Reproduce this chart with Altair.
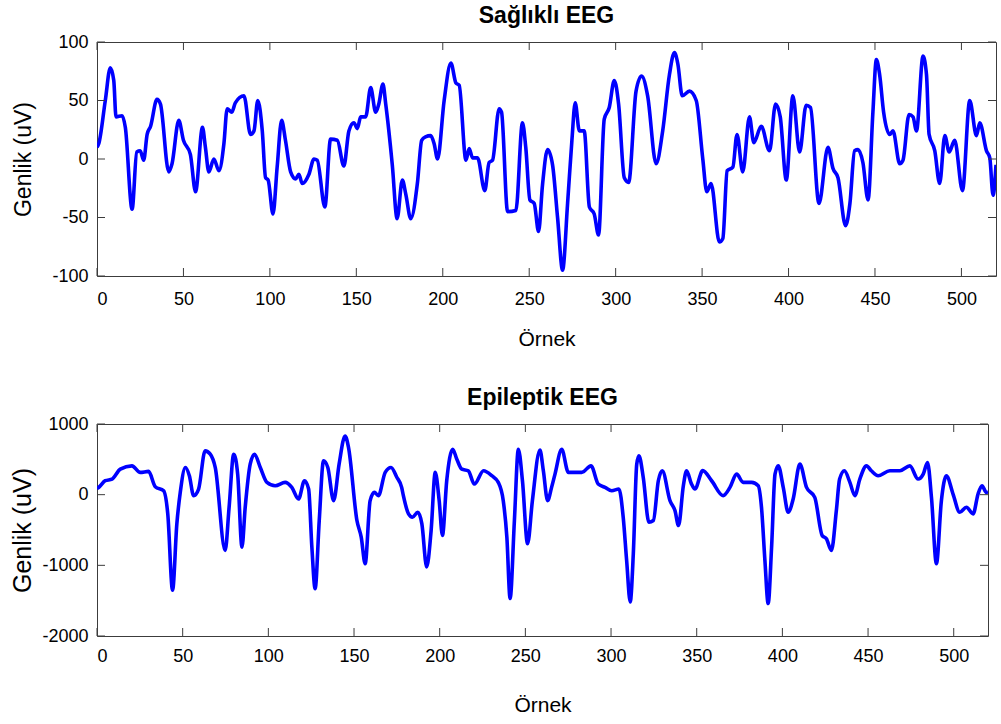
import altair as alt
import pandas as pd

# Healthy EEG trace: sample index and amplitude (uV)
healthy_t = [0, 1, 4.8, 7.7, 9.7, 11, 14.5, 16.4, 20.3, 23, 25, 27, 29, 31, 34.7, 36.7, 41.5, 43.4,
             47.3, 50, 54, 57, 61, 62.7, 64.7, 67.6, 70.5, 73.4, 75.3, 78, 80, 85, 88.8, 90.8,
             93, 95.6, 97.5, 99, 101.8, 104.2, 106.8, 109, 112, 114.9, 116.8, 118.7, 122.6,
             125.5, 127.4, 131.8, 135.1, 139, 142.8, 145.7, 148.6, 150.6, 152.5, 155.4, 158.3,
             161.2, 163, 165.4, 167, 170.8, 173.6, 176.6, 178.6, 181.5, 185.3, 187.8, 190, 193,
             195, 197, 200.8, 204.7, 207.6, 209.5, 213.4, 215.3, 217.2, 220.1, 224.3, 226.8,
             228.8, 232.6, 234, 237.5, 242.3, 246.1, 248, 250.4, 252.9, 255.4, 257.7, 260.6,
             263.5, 266.4, 269.3, 272.2, 274.7, 276.6, 279, 281.8, 284.8, 287.6, 290.1, 293.4,
             296.3, 299.2, 301.7, 305, 307.5, 311.8, 315, 318.5, 323.4, 327.2, 331.1, 334, 336,
             338.5, 342.7, 346.6, 350.4, 352.7, 355.2, 360, 362, 364.5, 367.8, 370.2, 373.5,
             377.4, 379.9, 384.2, 389, 392.5, 395.2, 398.7, 402.5, 406.4, 410.2, 412.7, 417.6,
             422.8, 425.7, 428.6, 433, 435.5, 438.2, 440.2, 443, 446, 448.8, 450.8, 452.7, 455,
             458.5, 460.4, 464.3, 466.2, 469.7, 472, 474, 477.8, 479.8, 481.3, 484.6, 487.4,
             490.4, 492.9, 496.1, 500.6, 504.8, 508.7, 510.6, 514.5, 516.4, 518.3, 520]
healthy_uv = [10, 13, 50, 78, 67, 36, 37, 27, -43, 6, 7, -1, 21, 28, 51, 47, -11, -4,
              33, 16, 4, -28, 27, 10, -11, 0, -10, 13, 43, 40, 48, 54, 21, 24,
              50, 24, -16, -18, -47, -7, 33, 16, -11, -17, -13, -21, -13,
              0, -1, -41, 17, 16, -6, 24, 31, 26, 36, 36, 61,
              40, 47, 64, 47, -5, -51, -18, -30, -51, -21, 16, 19, 20,
              13, 0, 50, 82, 65, 63, -1, 9, 1, 1, -27, -3,
              -1, 43, 40, -45, -44, 31, 10, -35, -38, -62, -22, 8,
              -5, -50, -95, -38, 16, 48, 24, 24, -41, -47, -65, 34,
              44, 67, 47, -16, -20, 58, 71, 54, -4, 24, 72, 91, 81,
              54, 58, 50, 0, -28, -21, -71, -68, -10, -7, 21, -11,
              36, 14, 28, 7, 47, 36, -18, 54, 6, 46, 44, -38,
              10, -8, -16, -57, -38, 7, 8, -3, -35, 40, 85, 72, 40,
              21, 24, -4, -1, 38, 36, 24, 88, 72, 21, 7, -21,
              20, 6, 16, -27, 50, 20, 31, 7, 1, -31, -5]

# Epileptic EEG trace: sample index and amplitude (uV)
epileptic_t = [0, 1, 4.8, 8.8, 13.6, 20.4, 25.2, 30.1, 34, 38.9, 41.3, 44.1, 46.6, 48.6, 51.6,
               53.9, 56.4, 59.3, 63.1, 66.1, 69, 74.8, 77.1, 79.8, 82.1, 84.6, 86.5, 89.4, 91.9,
               95.3, 99.2, 104, 109.8, 113.7, 117.6, 121.1, 123.5, 125.4, 127.3, 129.7, 132.2,
               134.7, 138.1, 141.3, 144.8, 146.8, 151.7, 154.2, 156.5, 159.4, 161.9, 164.2,
               168.2, 171.6, 174.9, 177.8, 178.8, 181.8, 184.1, 187.2, 189.6, 192.4, 195, 197.4,
               199.7, 201.6, 204.1, 207.6, 210, 212.9, 216.7, 220.2, 225.6, 230.4, 234.2, 237.1,
               239.2, 241.1, 243.6, 245.9, 248.3, 251.3, 254.1, 258.5, 260.5, 263, 265.3, 267.3,
               271.2, 275.1, 278.9, 282.9, 288.3, 292.5, 296.5, 300.4, 304.6, 307.1, 309.1,
               311.2, 313, 315, 316.3, 318.8, 322.1, 324.7, 327.6, 329.9, 334.4, 337.3, 339.4,
               342.2, 344.1, 346.8, 349, 353.5, 358.7, 365.4, 369.4, 373.3, 377.1, 382.1, 385.9,
               387.8, 389.8, 391.7, 393.7, 395.7, 397.6, 400.5, 403.4, 406.3, 410.2, 414.1,
               418.9, 423.2, 425.7, 428.6, 431.5, 433.4, 436.2, 439.4, 442.3, 445.2, 449.1,
               451.9, 455.9, 462.7, 468.6, 474.4, 479.2, 482.2, 484.7, 487, 489.9, 492.8, 495.7,
               499.6, 503.5, 507.4, 511.3, 514.2, 516.5, 519, 520]
epileptic_uv = [90, 103, 197, 220, 361, 408, 315, 329, 113, 56, -272, -1352, -413, 33, 385,
                268, -14, 80, 620, 573, 385, -789, -178, 573, 291, -742, -178, 432, 573,
                385, 174, 127, 174, 103, -61, 197, 80, -742, -1329, -366, 479,
                385, -85, 432, 831, 667, -366, -601, -977, -85, 33, -14,
                315, 385, 250, 103, -14, -272, -319, -249, -413, -1023, -507, 315,
                -85, -577, 197, 643, 502, 361, 338, 150, 338, 268, 174, -85,
                -601, -1470, -366, 643, 197, -695, -85, 630, 338, -85, 103, 291,
                643, 315, 315, 315, 408, 150, 103, 56, 80, -319, -930,
                -1517, -836, 432, 549, 244, -390, -366, 197, 338, -85, -225, -437,
                127, 338, 160, 80, 340, 197, -14, 103, 291, 174, 174, 127,
                -178, -930, -1540, -742, 291, 408, 103, -249, -61, 432, 103,
                -38, -577, -624, -789, -225, 221, 338, 174, -14, 221, 408,
                338, 268, 338, 338, 408, 221, 291, 455, -38, -977, -85, 268,
                9, -249, -178, -272, 9, 127, 33, 40]

x_ticks = [0, 50, 100, 150, 200, 250, 300, 350, 400, 450, 500]
healthy_y_ticks = [-100, -50, 0, 50, 100]
epileptic_y_ticks = [-2000, -1000, 0, 1000]

FONT = "Liberation Sans"
BLUE = "#0000FF"
FRAME = "#3c3c3c"
TICK_LEN = 8
# plain integers with an ASCII hyphen for negatives
PLAIN_LABEL = "datum.value < 0 ? '-' + format(-datum.value, 'd') : format(datum.value, 'd')"


def panel(t, uv, y_domain, y_ticks, title, width, height, x_label_pad, x_title_pad, y_title_size):
    x_enc = alt.X(
        "t:Q",
        scale=alt.Scale(domain=[0, 520], nice=False, zero=False),
        axis=alt.Axis(values=x_ticks, title="Örnek", tickSize=0, domain=False, grid=False,
                      labelPadding=x_label_pad, titlePadding=x_title_pad, labelExpr=PLAIN_LABEL),
    )
    y_enc = alt.Y(
        "v:Q",
        scale=alt.Scale(domain=y_domain, nice=False, zero=False),
        axis=alt.Axis(values=y_ticks, title="Genlik (uV)", tickSize=0, domain=False, grid=False,
                      labelPadding=9, minExtent=58, maxExtent=58, titlePadding=4,
                      titleFontSize=y_title_size, labelExpr=PLAIN_LABEL),
    )

    line = alt.Chart(pd.DataFrame({"t": t, "v": uv})).mark_line(
        color=BLUE, strokeWidth=3.6, interpolate="monotone", clip=True
    ).encode(x=x_enc, y=y_enc)

    xt = pd.DataFrame({"t": x_ticks})
    yt = pd.DataFrame({"v": y_ticks})
    rule = dict(color=FRAME, strokeWidth=1)
    ticks_bottom = alt.Chart(xt).mark_rule(**rule).encode(
        x=x_enc, y=alt.value(height), y2=alt.value(height - TICK_LEN))
    ticks_top = alt.Chart(xt).mark_rule(**rule).encode(
        x=x_enc, y=alt.value(0), y2=alt.value(TICK_LEN))
    ticks_left = alt.Chart(yt).mark_rule(**rule).encode(
        y=y_enc, x=alt.value(0), x2=alt.value(TICK_LEN))
    ticks_right = alt.Chart(yt).mark_rule(**rule).encode(
        y=y_enc, x=alt.value(width), x2=alt.value(width - TICK_LEN))

    return alt.layer(line, ticks_bottom, ticks_top, ticks_left, ticks_right).properties(
        width=width,
        height=height,
        title=alt.TitleParams(title, fontSize=23, fontWeight="bold", font=FONT,
                              color="black", offset=5),
    )


top = panel(healthy_t, healthy_uv, [-100, 100], healthy_y_ticks, "Sağlıklı EEG",
            899, 234, 14, 20, 23)
bottom = panel(epileptic_t, epileptic_uv, [-2000, 1000], epileptic_y_ticks, "Epileptik EEG",
               891, 212, 11, 29, 25)

chart = alt.vconcat(top, bottom, spacing=36).properties(
    padding={"top": 4, "left": 9, "right": 0, "bottom": 0},
    background="white",
).configure_view(
    stroke=FRAME, strokeWidth=1
).configure_axis(
    labelFont=FONT, titleFont=FONT, labelFontSize=18, titleFontSize=21,
    labelColor="black", titleColor="black", titleFontWeight="normal",
)

chart.save("out.html", embed_options={"renderer": "svg", "actions": False})
